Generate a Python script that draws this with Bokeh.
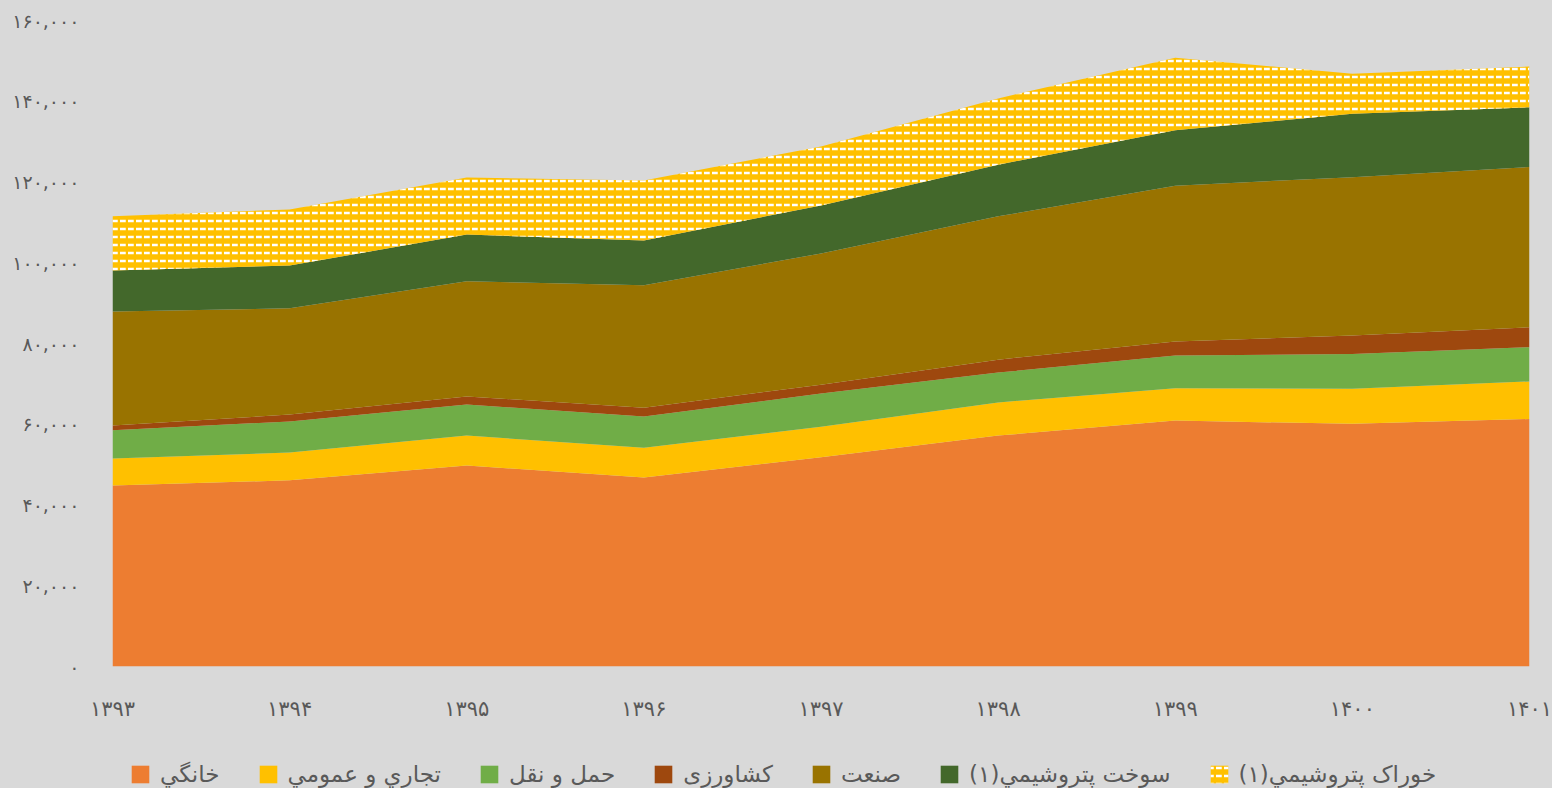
from bokeh.plotting import figure
from bokeh.layouts import column
from bokeh.models import ColumnDataSource, Range1d, FixedTicker, Legend, LegendItem
from bokeh.transform import stack
from bokeh.embed import file_html
from bokeh.resources import INLINE

years = [1393, 1394, 1395, 1396, 1397, 1398, 1399, 1400, 1401]
year_labels = ["۱۳۹۳", "۱۳۹۴", "۱۳۹۵", "۱۳۹۶", "۱۳۹۷", "۱۳۹۸", "۱۳۹۹", "۱۴۰۰", "۱۴۰۱"]
y_ticks = [0, 20000, 40000, 60000, 80000, 100000, 120000, 140000, 160000]
y_tick_labels = ["۰", "۲۰,۰۰۰", "۴۰,۰۰۰", "۶۰,۰۰۰", "۸۰,۰۰۰", "۱۰۰,۰۰۰", "۱۲۰,۰۰۰", "۱۴۰,۰۰۰", "۱۶۰,۰۰۰"]

khanegi = [44800, 46100, 49800, 46800, 51800, 57200, 60900, 60100, 61300]
tejari = [6700, 6900, 7400, 7400, 7600, 8200, 8000, 8700, 9300]
haml = [7000, 7700, 7700, 7700, 8200, 7400, 8100, 8600, 8500]
keshavarzi = [1200, 1700, 2000, 2200, 2200, 3200, 3500, 4600, 4900]
sanat = [28200, 26300, 28500, 30300, 32500, 35500, 38600, 39200, 39700]
sookht = [10200, 10600, 11600, 11100, 11900, 12800, 13700, 15700, 14800]
khorak = [13400, 13900, 14100, 14900, 14600, 16400, 18000, 9900, 10100]

series_names = ["khanegi", "tejari", "haml", "keshavarzi", "sanat", "sookht", "khorak"]
series_labels = ["خانگي", "تجاري و عمومي", "حمل و نقل", "کشاورزی", "صنعت", "سوخت پتروشيمي(۱)", "خوراک پتروشيمي(۱)"]
colors = ["#ED7D31", "#FFC000", "#70AD47", "#9E480E", "#997300", "#43682B", "#FFC000"]

source = ColumnDataSource(dict(x=years, khanegi=khanegi, tejari=tejari, haml=haml,
                               keshavarzi=keshavarzi, sanat=sanat, sookht=sookht, khorak=khorak))

BG = "#D9D9D9"
TXT = "#595959"
HATCH = dict(hatch_pattern="horizontal_dash", hatch_color="white", hatch_scale=8, hatch_weight=2.5)


def add_areas(fig):
    rs = []
    for i, name in enumerate(series_names):
        y1 = stack(*series_names[:i]) if i > 0 else 0
        y2 = stack(*series_names[:i + 1])
        kw = dict(fill_color=colors[i])
        if name == "khorak":
            kw.update(HATCH)
        rs.append(fig.varea(x="x", y1=y1, y2=y2, source=source, **kw))
    return rs


def style(fig):
    fig.background_fill_color = BG
    fig.border_fill_color = BG
    fig.outline_line_color = None
    fig.xgrid.grid_line_color = None
    fig.ygrid.grid_line_color = None


p = figure(width=1552, height=740, output_backend="svg", toolbar_location=None,
           x_range=Range1d(1393, 1401), y_range=Range1d(0, 160000),
           min_border_left=112, min_border_right=23, min_border_top=20, min_border_bottom=74,
           styles={"background-color": BG})
style(p)
add_areas(p)

p.xaxis.ticker = FixedTicker(ticks=years)
p.xaxis.major_label_overrides = {y: l for y, l in zip(years, year_labels)}
p.yaxis.ticker = FixedTicker(ticks=y_ticks)
p.yaxis.major_label_overrides = {t: l for t, l in zip(y_ticks, y_tick_labels)}
for ax in (p.xaxis, p.yaxis):
    ax.axis_line_color = None
    ax.major_tick_line_color = None
    ax.minor_tick_line_color = None
    ax.major_label_text_color = TXT
    ax.major_label_text_font = "DejaVu Sans"
p.xaxis.major_label_text_font_size = "21px"
p.yaxis.major_label_text_font_size = "19px"
p.xaxis.major_label_standoff = 24
p.yaxis.major_label_standoff = 27

# legend strip below the chart (its ranges keep the areas out of view)
p2 = figure(width=1552, height=48, output_backend="svg", toolbar_location=None,
            x_range=Range1d(0, 1), y_range=Range1d(0, 1),
            x_axis_location=None, y_axis_location=None,
            min_border_left=112, min_border_right=23, min_border_top=0, min_border_bottom=0,
            styles={"background-color": BG})
style(p2)
rs = add_areas(p2)
items = [LegendItem(label=lab, renderers=[r]) for lab, r in zip(series_labels, rs)]

legend = Legend(items=items, orientation="horizontal", location=(17, 1),
                background_fill_alpha=0, border_line_alpha=0, padding=0, margin=0,
                spacing=37, label_standoff=9, glyph_width=22, glyph_height=22,
                label_text_font_size="23px", label_text_color=TXT, label_text_font="DejaVu Sans")
p2.add_layout(legend, "center")

layout = column(p, p2, spacing=0, styles={"background-color": BG})
open("out.html", "w").write(file_html(layout, INLINE))
